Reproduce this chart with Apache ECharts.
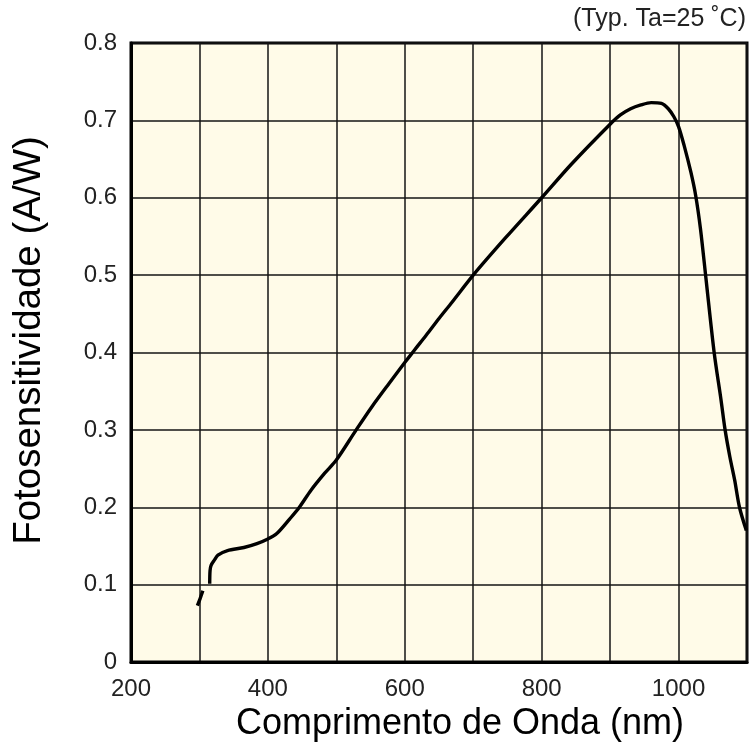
<!DOCTYPE html>
<html>
<head>
<meta charset="utf-8">
<script src="https://cdn.jsdelivr.net/npm/echarts@6/dist/echarts.min.js"></script>
<style>
  html, body { margin: 0; padding: 0; background: #ffffff; }
  #chart { width: 750px; height: 756px; }
</style>
</head>
<body>
<div id="chart"></div>
<script>
// Spectral response of the photodiode: wavelength (nm) vs photosensitivity (A/W).
// A null entry marks the break in the measured curve around 310 nm.
const wavelengthNm = [
  297, 301, 305, null,
  315, 315.5, 317, 322, 327, 341, 365, 384, 400, 413, 432, 446, 463, 483,
  500, 529, 552, 577, 600, 614, 631, 650, 669, 700, 747, 800, 843, 900,
  915, 930, 945, 960, 975, 985, 993, 1000, 1008, 1018, 1025, 1032, 1040,
  1052, 1062, 1068, 1075, 1082, 1089, 1099
];
const sensitivityAW = [
  0.073, 0.082, 0.092, null,
  0.101, 0.118, 0.125, 0.132, 0.138, 0.144, 0.148, 0.153, 0.159, 0.166, 0.185, 0.200, 0.222, 0.244,
  0.261, 0.300, 0.330, 0.360, 0.387, 0.403, 0.422, 0.444, 0.465, 0.500, 0.548, 0.600, 0.643, 0.695,
  0.707, 0.715, 0.720, 0.723, 0.722, 0.715, 0.705, 0.692, 0.668, 0.633, 0.603, 0.560, 0.496,
  0.400, 0.339, 0.300, 0.265, 0.235, 0.200, 0.170
];
const xTickLabels = ['200', '400', '600', '800', '1000'];
const yTickLabels = ['0', '0.1', '0.2', '0.3', '0.4', '0.5', '0.6', '0.7', '0.8'];

const xAxisTitle = 'Comprimento de Onda (nm)';
const yAxisTitle = 'Fotosensitividade (A/W)';
const conditionNote = '(Typ. Ta=25 \u02DAC)';

const FONT = '"Liberation Sans", Arial, Helvetica, sans-serif';

const curve = wavelengthNm.map((w, i) =>
  w === null ? [null, null] : [w, sensitivityAW[i]]
);

const chart = echarts.init(document.getElementById('chart'), null, { renderer: 'canvas' });

chart.setOption({
  animation: false,
  backgroundColor: '#ffffff',
  grid: {
    left: 131, right: 2, top: 43, bottom: 94,
    show: true,
    backgroundColor: '#fffbe8',
    borderColor: '#000000',
    borderWidth: 3
  },
  graphic: [{
    type: 'text',
    right: 4,
    top: 7,
    style: {
      text: conditionNote,
      font: '25px ' + FONT,
      fill: '#222222'
    }
  }],
  xAxis: {
    type: 'value',
    min: 200, max: 1100, interval: 100,
    name: xAxisTitle,
    nameLocation: 'middle',
    nameGap: 28,
    nameTextStyle: {
      fontFamily: FONT, fontSize: 36, color: '#000000',
      padding: [0, 0, 0, 42]
    },
    axisLine: { show: true, onZero: false, lineStyle: { color: '#000000', width: 3 } },
    axisTick: { show: false },
    axisLabel: {
      margin: 15,
      fontFamily: FONT, fontSize: 24, color: '#222222',
      formatter: v => xTickLabels.includes(String(v)) ? String(v) : ''
    },
    splitLine: { show: true, lineStyle: { color: '#141414', width: 1.5 } }
  },
  yAxis: {
    type: 'value',
    min: 0, max: 0.8, interval: 0.1,
    name: yAxisTitle,
    nameLocation: 'middle',
    nameGap: 82,
    nameTextStyle: {
      fontFamily: FONT, fontSize: 38.5, color: '#000000',
      padding: [0, 0, 0, 24]
    },
    axisLine: { show: true, lineStyle: { color: '#000000', width: 3 } },
    axisTick: { show: false },
    axisLabel: {
      margin: 14,
      fontFamily: FONT, fontSize: 24, color: '#222222',
      formatter: v => yTickLabels[Math.round(v * 10)] ?? ''
    },
    splitLine: { show: true, lineStyle: { color: '#141414', width: 1.5 } }
  },
  series: [{
    type: 'line',
    data: curve,
    showSymbol: false,
    connectNulls: false,
    smooth: 0.3,
    clip: true,
    lineStyle: { color: '#000000', width: 3.4 }
  }]
});
</script>
</body>
</html>
